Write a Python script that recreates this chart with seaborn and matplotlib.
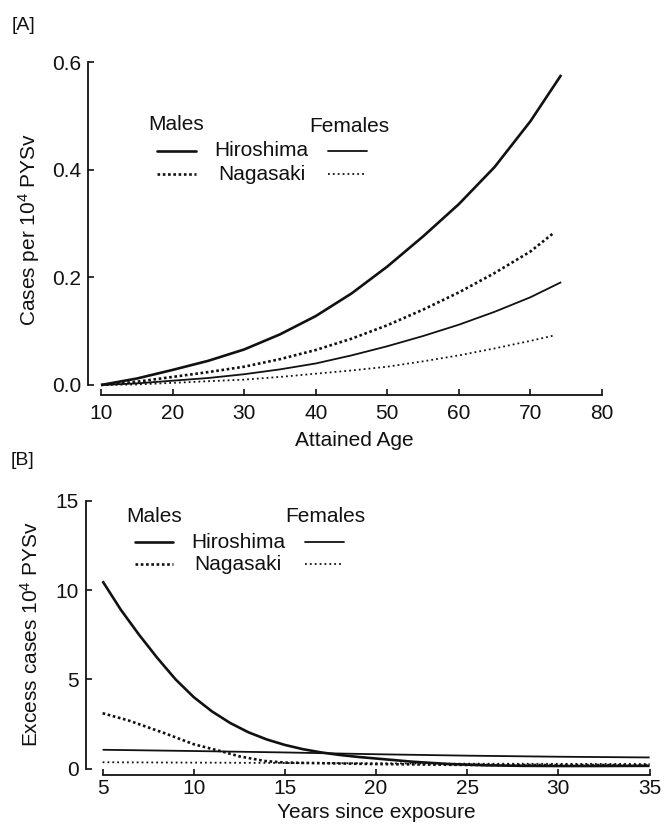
import matplotlib
matplotlib.use("Agg")
import matplotlib.pyplot as plt
import seaborn as sns
import pandas as pd
from matplotlib.lines import Line2D

# ---------------- Panel A data (Attained age vs cases per 10^4 PYSv) -----------
age_h = [10, 15, 20, 25, 30, 35, 40, 45, 50, 55, 60, 65, 70, 74.3]
age_n = [10, 15, 20, 25, 30, 35, 40, 45, 50, 55, 60, 65, 70, 73.3]
a_male_hiro = [0.0, 0.012, 0.028, 0.045, 0.066, 0.094, 0.128, 0.170, 0.220, 0.276, 0.336, 0.405, 0.490, 0.576]
a_male_naga = [0.0, 0.006, 0.015, 0.024, 0.034, 0.048, 0.065, 0.086, 0.111, 0.140, 0.172, 0.208, 0.248, 0.283]
a_fem_hiro = [0.0, 0.003, 0.008, 0.013, 0.020, 0.029, 0.040, 0.055, 0.072, 0.091, 0.112, 0.136, 0.163, 0.191]
a_fem_naga = [0.0, 0.001, 0.004, 0.007, 0.010, 0.015, 0.021, 0.027, 0.034, 0.044, 0.055, 0.068, 0.082, 0.092]
a_xticks = [10, 20, 30, 40, 50, 60, 70, 80]
a_yticks = [0.0, 0.2, 0.4, 0.6]
a_yticklabels = ["0.0", "0.2", "0.4", "0.6"]

# ---------------- Panel B data (Years since exposure vs excess cases) ----------
yrs_mh = [5, 6, 7, 8, 9, 10, 11, 12, 13, 14, 15, 16, 17, 18, 19, 20, 22, 24, 26, 28, 30, 32, 35]
b_male_hiro = [10.5, 8.9, 7.5, 6.2, 5.0, 4.0, 3.2, 2.55, 2.03, 1.63, 1.32, 1.08, 0.90, 0.76, 0.65, 0.56,
               0.38, 0.25, 0.18, 0.15, 0.14, 0.14, 0.15]
yrs_mn = [5, 6.4, 8.4, 10, 11.6, 12.5, 13.9, 15, 20, 25, 30, 35]
b_male_naga = [3.1, 2.7, 1.98, 1.36, 0.94, 0.68, 0.42, 0.33, 0.25, 0.20, 0.19, 0.19]
yrs_f = [5, 10, 15, 20, 25, 30, 35]
b_fem_hiro = [1.05, 0.98, 0.90, 0.80, 0.72, 0.66, 0.62]
b_fem_naga = [0.35, 0.33, 0.31, 0.29, 0.27, 0.26, 0.25]
b_xticks = [5, 10, 15, 20, 25, 30, 35]
b_yticks = [0, 5, 10, 15]

sns.set_style("ticks")
plt.rcParams["font.family"] = ["Liberation Sans", "DejaVu Sans"]
plt.rcParams["mathtext.fontset"] = "custom"
plt.rcParams["mathtext.rm"] = "Liberation Sans"
plt.rcParams["mathtext.it"] = "Liberation Sans:italic"
plt.rcParams["mathtext.bf"] = "Liberation Sans:bold"

W, H = 666, 826
fig = plt.figure(figsize=(W / 100, H / 100), dpi=100)
fig.patch.set_facecolor("white")


def rect(x0, x1, y0, y1):
    return [x0 / W, 1 - y1 / H, (x1 - x0) / W, (y1 - y0) / H]


FS = 15
INK = "#111111"
LW_M, LW_F = 1.9, 1.3
DOT_M = (0, (1.0, 1.0))
DOT_F = (0, (1.0, 1.7))

axA = fig.add_axes(rect(101, 602, 62, 385))
axB = fig.add_axes(rect(102.6, 649.6, 501, 768.5))


def draw(ax, x, y, lw, ls):
    df = pd.DataFrame({"x": x, "y": y})
    sns.lineplot(data=df, x="x", y="y", ax=ax, color=INK, linewidth=lw,
                 linestyle=ls, estimator=None, sort=False, clip_on=False,
                 dash_capstyle="butt", solid_capstyle="butt",
                 solid_joinstyle="round")


# Panel A
draw(axA, age_h, a_male_hiro, LW_M, "-")
draw(axA, age_n, a_male_naga, LW_M, DOT_M)
draw(axA, age_h, a_fem_hiro, LW_F, "-")
draw(axA, age_n, a_fem_naga, LW_F, DOT_F)
axA.set_xlim(10, 80)
axA.set_ylim(0, 0.6)
axA.set_xticks(a_xticks)
axA.set_yticks(a_yticks)
axA.set_yticklabels(a_yticklabels)

# Panel B
draw(axB, yrs_mh, b_male_hiro, LW_M, "-")
draw(axB, yrs_mn, b_male_naga, LW_M, DOT_M)
draw(axB, yrs_f, b_fem_hiro, LW_F, "-")
draw(axB, yrs_f, b_fem_naga, LW_F, DOT_F)
axB.set_xlim(5, 35)
axB.set_ylim(0, 15)
axB.set_xticks(b_xticks)
axB.set_yticks(b_yticks)

for ax, lo, bo, xb, yb, xpad, ypad in [
    (axA, 9.6, 7.2, (10, 80), (0, 0.6), 6.5, 4.5),
    (axB, 12.3, 4.7, (5, 35), (0, 15), 2.6, 5.0),
]:
    sns.despine(ax=ax)
    ax.spines["left"].set_position(("outward", lo))
    ax.spines["bottom"].set_position(("outward", bo))
    ax.spines["left"].set_bounds(*yb)
    ax.spines["bottom"].set_bounds(*xb)
    for s in ("left", "bottom"):
        ax.spines[s].set_linewidth(1.3)
        ax.spines[s].set_color(INK)
    ax.tick_params(axis="both", direction="in", length=4, width=1.2,
                   colors=INK, labelsize=FS)
    ax.tick_params(axis="x", pad=xpad)
    ax.tick_params(axis="y", pad=ypad)
    ax.set_facecolor("white")

axA.set_xlabel("Attained Age", fontsize=FS, color=INK)
axA.set_ylabel("Cases per 10$^4$ PYSv", fontsize=FS, color=INK)
axA.xaxis.set_label_coords(0.506, -0.141)
axA.yaxis.set_label_coords(-0.118, 0.48)

axB.set_xlabel("Years since exposure", fontsize=FS, color=INK)
axB.set_ylabel("Excess cases 10$^4$ PYSv", fontsize=FS, color=INK)
axB.xaxis.set_label_coords(0.50, -0.128)
axB.yaxis.set_label_coords(-0.111, 0.50)

# Panel tags
fig.text(12 / W, 1 - 25 / H, "[A]", fontsize=FS - 1, color=INK, ha="left", va="center")
fig.text(11 / W, 1 - 460 / H, "[B]", fontsize=FS - 1, color=INK, ha="left", va="center")


def ftext(x, y, s, ha="center"):
    fig.text(x / W, 1 - y / H, s, fontsize=FS, color=INK, ha=ha, va="center")


def fline(x0, x1, y, lw, ls):
    fig.add_artist(Line2D([x0 / W, x1 / W], [1 - y / H, 1 - y / H],
                          transform=fig.transFigure, color=INK, lw=lw, ls=ls,
                          dash_capstyle="butt"))


# Legend A
ftext(176, 125, "Males")
ftext(349, 126, "Females")
ftext(261, 151, "Hiroshima")
ftext(262, 174, "Nagasaki")
fline(157, 196, 151, LW_M, "-")
fline(328, 367, 151, LW_F, "-")
fline(157, 196, 174, LW_M, DOT_M)
fline(328, 367, 174, LW_F, DOT_F)

# Legend B
ftext(154, 517, "Males")
ftext(325, 517, "Females")
ftext(238, 542, "Hiroshima")
ftext(238, 564, "Nagasaki")
fline(135, 173, 542, LW_M, "-")
fline(305, 344, 542, LW_F, "-")
fline(135, 173, 564, LW_M, DOT_M)
fline(305, 344, 564, LW_F, DOT_F)

fig.savefig("out.png", dpi=100, facecolor="white")
